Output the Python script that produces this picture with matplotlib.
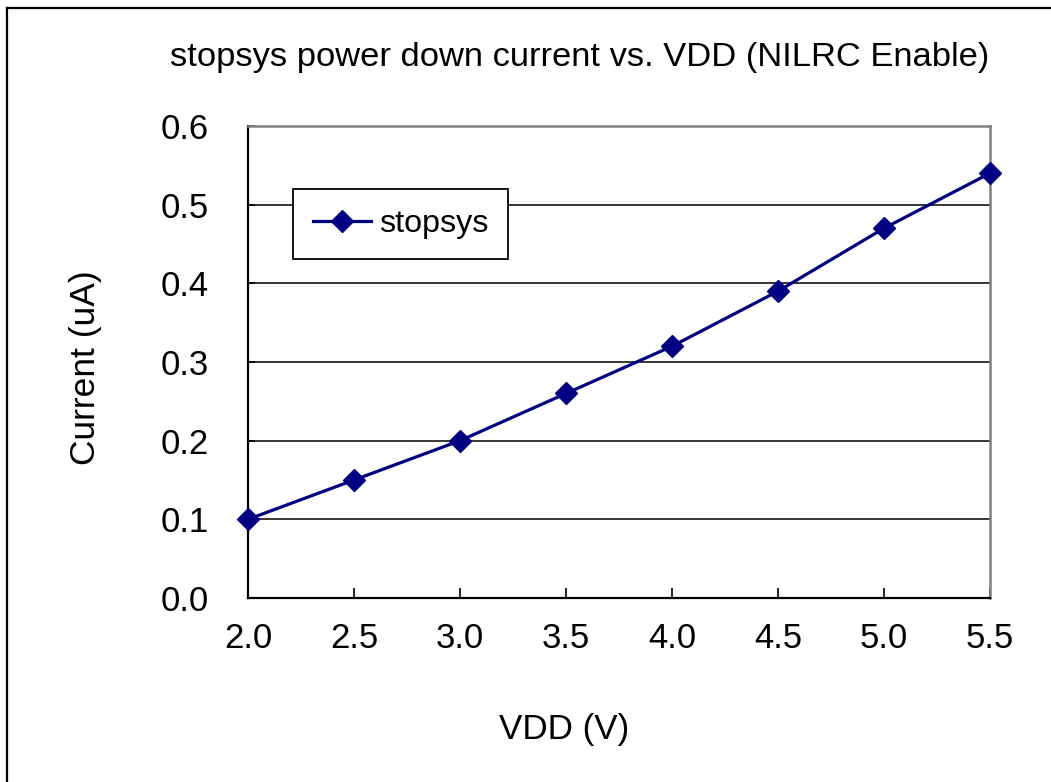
import matplotlib
matplotlib.use("Agg")
import matplotlib.pyplot as plt
from matplotlib.lines import Line2D

vdd = [2.0, 2.5, 3.0, 3.5, 4.0, 4.5, 5.0, 5.5]
current = [0.10, 0.15, 0.20, 0.26, 0.32, 0.39, 0.47, 0.54]
series_name = "stopsys"
xticks = [2.0, 2.5, 3.0, 3.5, 4.0, 4.5, 5.0, 5.5]
yticks = [0.0, 0.1, 0.2, 0.3, 0.4, 0.5, 0.6]

plt.rcParams['font.family'] = ['Liberation Sans', 'DejaVu Sans']

W, H = 1051, 782
fig = plt.figure(figsize=(W / 100, H / 100), dpi=100)
fig.patch.set_facecolor('white')

L, R, T, B = 248, 990, 126, 598
ax = fig.add_axes([L / W, 1 - B / H, (R - L) / W, (B - T) / H])

ax.plot(vdd, current, color='#000080', lw=2.3, marker='D', ms=11.5,
        mec='#000080', mfc='#000080', clip_on=False, zorder=5, label=series_name)

ax.set_xlim(2.0, 5.5)
ax.set_ylim(0.0, 0.6)
ax.set_xticks(xticks)
ax.set_yticks(yticks)
ax.set_xticklabels([f"{v:.1f}" for v in xticks])
ax.set_yticklabels([f"{v:.1f}" for v in yticks])

ax.yaxis.grid(True, color='black', lw=1.1)
ax.set_axisbelow(True)

for s in ['top', 'right']:
    ax.spines[s].set_color('#808080')
    ax.spines[s].set_linewidth(1.8)
for s in ['left', 'bottom']:
    ax.spines[s].set_color('black')
    ax.spines[s].set_linewidth(1.6)

ax.tick_params(axis='both', direction='in', labelsize=25, colors='black', width=1.2)
ax.tick_params(axis='x', length=7, pad=17)
ax.tick_params(axis='y', length=5, pad=28)

ax.set_title("stopsys power down current vs. VDD (NILRC Enable)", fontsize=24.8,
             x=(580 - L) / (R - L), y=(B - 66) / (B - T), va='center', ha='center')
ax.set_xlabel("VDD (V)", fontsize=25.2, va='center', ha='center')
ax.xaxis.set_label_coords((564 - L) / (R - L), (B - 730) / (B - T))
ax.set_ylabel("Current (uA)", fontsize=25.5, va='center', ha='center')
ax.yaxis.set_label_coords((85 - L) / (R - L), (B - 368) / (B - T))

leg = ax.legend(loc='upper left',
                bbox_to_anchor=((293 - L) / (R - L), (B - 189) / (B - T)),
                borderaxespad=0, fontsize=23.2, frameon=True, fancybox=False,
                framealpha=1, edgecolor='black', handlelength=1.8,
                handletextpad=0.25, borderpad=0.62)
leg.get_frame().set_linewidth(1.3)

# figure frame (left and top edges)
fig.add_artist(Line2D([7 / W, 7 / W], [0, 1 - 8 / H], color='black', lw=1.6,
                      transform=fig.transFigure))
fig.add_artist(Line2D([7 / W, 1], [1 - 8 / H, 1 - 8 / H], color='black', lw=1.6,
                      transform=fig.transFigure))

fig.savefig("out.png", dpi=100)
